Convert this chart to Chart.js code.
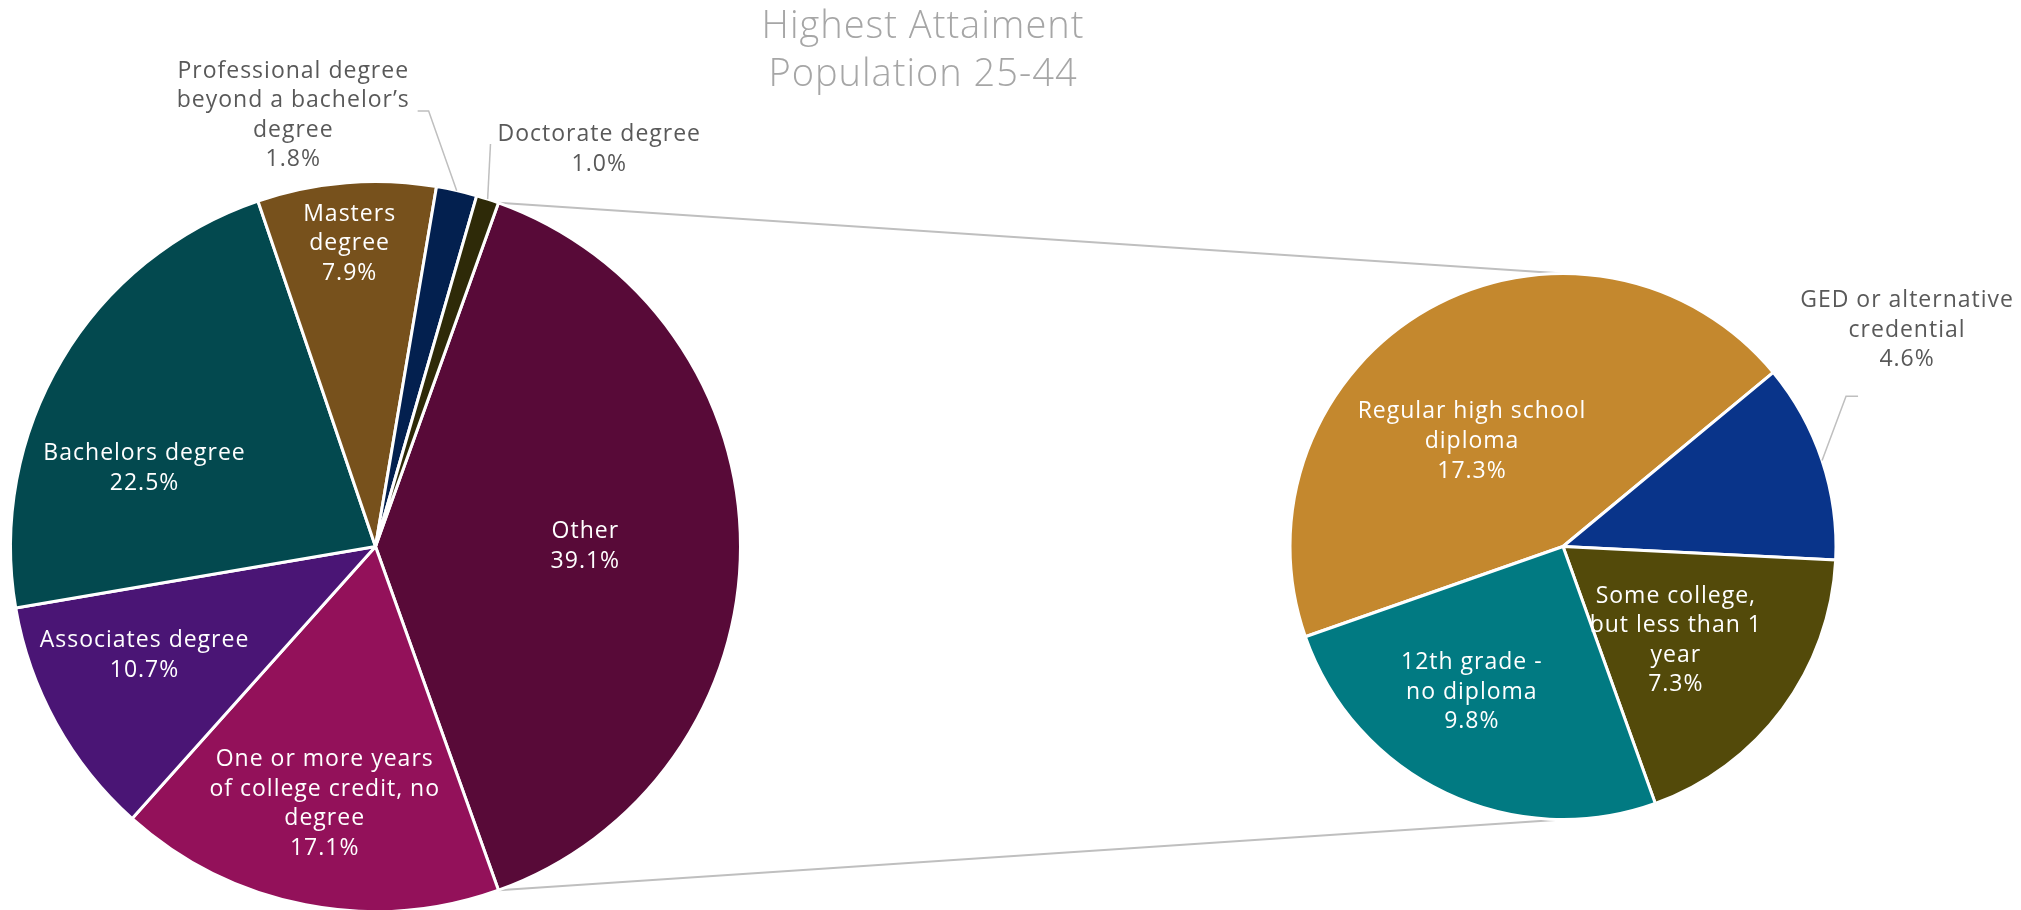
<!DOCTYPE html>
<html>
<head>
<meta charset="utf-8">
<script src="https://cdn.jsdelivr.net/npm/chart.js@4.4.0/dist/chart.umd.min.js"></script>
<style>
body { margin: 0; width: 2021px; height: 910px; overflow: hidden; background: #fff; position: relative; }
canvas { position: absolute; top: 0; }
#lines { left: 0; }
#mainPie { left: 0; }
#subPie { left: 1200px; }
#title { position: absolute; left: 623px; width: 600px; top: -1px; text-align: center; letter-spacing: 1px;
  font-family: 'Open Sans'; font-weight: 300; font-size: 38px; line-height: 48px; color: #a6a6a6; }
</style>
</head>
<body>
<canvas id="lines" width="2021" height="910"></canvas>
<canvas id="mainPie" width="800" height="913"></canvas>
<canvas id="subPie" width="821" height="910"></canvas>
<div id="title">Highest Attaiment<br>Population 25-44</div>
<script>
// main pie (Other is split out into the second pie)
var mainNames = [["Other"], ["One or more years", "of college credit, no", "degree"], ["Associates degree"],
  ["Bachelors degree"], ["Masters", "degree"], ["Professional degree", "beyond a bachelor\u2019s", "degree"], ["Doctorate degree"]];
var mainValues = [39.1, 17.1, 10.7, 22.5, 7.9, 1.8, 1.0];
var mainColors = ['#580a38', '#93115a', '#4a1575', '#03494f', '#77511c', '#03204f', '#2e2a08'];

// second pie: breakdown of Other
var subNames = [["Regular high school", "diploma"], ["GED or alternative", "credential"],
  ["Some college,", "but less than 1", "year"], ["12th grade -", "no diploma"]];
var subValues = [17.3, 4.6, 7.3, 9.8];
var subColors = ['#c4882e', '#09348a', '#534a0a', '#017a82'];

// label placement: [angle shift from slice middle (deg), radius factor, inside?]
var mainPlace = [[0, 0.575, 1], [0.1, 0.719, 1], [3.65, 0.70, 1], [-12.05, 0.668, 1], [-0.3, 0.832, 1], [-23.66, 1.202, 0], [11.5, 1.249, 0]];
var subPlace = [[-11.45, 0.509, 1], [-13.8, 1.489, 0], [3.26, 0.538, 1], [6.54, 0.630, 1]];
// leader lines: [angle shift of end point, radius factor of end, tick length]
var mainLeaders = [null, null, null, null, null, [-5.9, 1.202, -11], [-1.95, 1.147, 0]];
var subLeaders = [null, [-9.6, 1.174, 12], null, null];

var labelPlugin = {
  id: 'sliceLabels',
  afterDatasetsDraw: function(chart) {
    var opts = chart.options.plugins.sliceLabels;
    var ctx = chart.ctx;
    var arcs = chart.getDatasetMeta(0).data;
    var values = chart.data.datasets[0].data;
    var rad = Math.PI / 180;
    ctx.save();
    ctx.font = '23px "Open Sans"';
    ctx.letterSpacing = '1px';
    ctx.textAlign = 'center';
    ctx.textBaseline = 'middle';
    arcs.forEach(function(arc, i) {
      var p = arc.getProps(['x', 'y', 'startAngle', 'endAngle', 'outerRadius'], true);
      var mid = (p.startAngle + p.endAngle) / 2;
      var place = opts.place[i];
      var a = mid + place[0] * rad;
      var cx = p.x + Math.cos(a) * p.outerRadius * place[1];
      var cy = p.y + Math.sin(a) * p.outerRadius * place[1];
      var lines = opts.names[i].concat([values[i].toFixed(1) + '%']);
      ctx.fillStyle = place[2] ? '#ffffff' : '#595959';
      lines.forEach(function(t, k) {
        ctx.fillText(t, cx, cy + (k - (lines.length - 1) / 2) * 29.6);
      });
      var lead = opts.leaders[i];
      if (lead) {
        var e = mid + lead[0] * rad;
        var ex = p.x + Math.cos(e) * p.outerRadius * lead[1];
        var ey = p.y + Math.sin(e) * p.outerRadius * lead[1];
        ctx.strokeStyle = '#bfbfbf';
        ctx.lineWidth = 1.5;
        ctx.beginPath();
        ctx.moveTo(p.x + Math.cos(mid) * p.outerRadius, p.y + Math.sin(mid) * p.outerRadius);
        ctx.lineTo(ex, ey);
        if (lead[2]) ctx.lineTo(ex + lead[2], ey);
        ctx.stroke();
      }
    });
    ctx.restore();
  }
};

function buildPie(id, names, values, colors, place, leaders, rotation, padding) {
  var ctx = document.getElementById(id).getContext('2d');
  return new Chart(ctx, {
    type: 'pie',
    data: {
      labels: names.map(function(n) { return n.join(' '); }),
      datasets: [{
        data: values,
        backgroundColor: colors,
        borderColor: '#ffffff',
        borderWidth: 3
      }]
    },
    options: {
      responsive: false,
      animation: false,
      rotation: rotation,
      layout: { padding: padding },
      plugins: {
        legend: { display: false },
        tooltip: { enabled: false },
        sliceLabels: { names: names, place: place, leaders: leaders }
      }
    },
    plugins: [labelPlugin]
  });
}

var mainTotal = mainValues.reduce(function(s, v) { return s + v; }, 0);
// Other is centred on the right-hand side, facing the second pie
var mainChart = buildPie('mainPie', mainNames, mainValues, mainColors, mainPlace, mainLeaders,
  90 - 180 * mainValues[0] / mainTotal, { left: 9, top: 180, right: 58, bottom: 0 });
var subChart = buildPie('subPie', subNames, subValues, subColors, subPlace, subLeaders,
  250.7, { left: 88.5, top: 272, right: 183.5, bottom: 89 });

// connector lines between the Other slice and the second pie
function drawConnectors() {
  var ctx = document.getElementById('lines').getContext('2d');
  var other = mainChart.getDatasetMeta(0).data[0].getProps(['x', 'y', 'startAngle', 'endAngle', 'outerRadius'], true);
  var sub = subChart.getDatasetMeta(0).data[0].getProps(['x', 'y', 'outerRadius'], true);
  var subLeft = 1200;
  ctx.strokeStyle = '#bfbfbf';
  ctx.lineWidth = 2;
  ctx.beginPath();
  ctx.moveTo(other.x + Math.cos(other.startAngle) * other.outerRadius, other.y + Math.sin(other.startAngle) * other.outerRadius);
  ctx.lineTo(subLeft + sub.x, sub.y - sub.outerRadius);
  ctx.moveTo(other.x + Math.cos(other.endAngle) * other.outerRadius, other.y + Math.sin(other.endAngle) * other.outerRadius);
  ctx.lineTo(subLeft + sub.x, sub.y + sub.outerRadius);
  ctx.stroke();
}

drawConnectors();
</script>
</body>
</html>
